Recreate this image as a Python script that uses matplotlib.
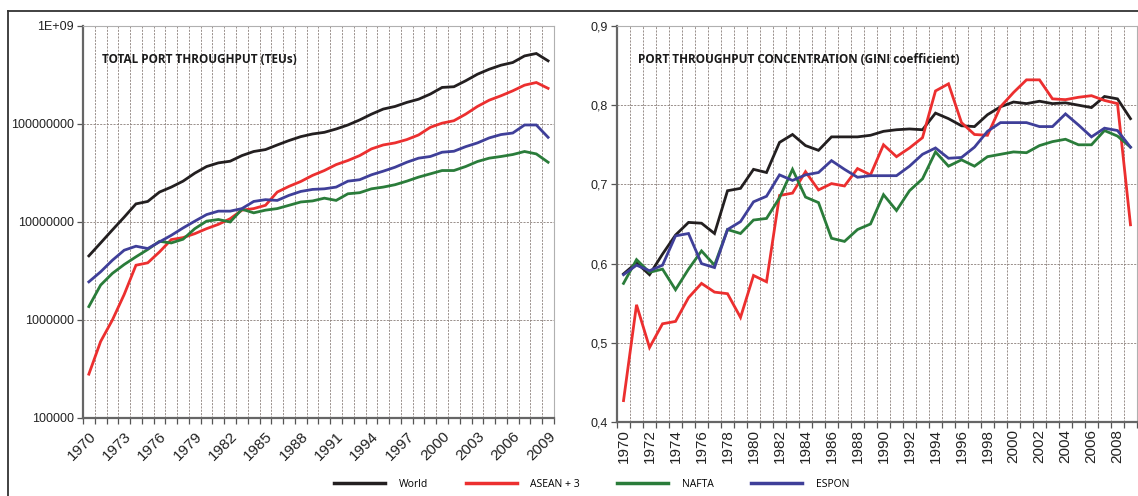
import numpy as np
import matplotlib
matplotlib.use("Agg")
import matplotlib.pyplot as plt
from matplotlib.lines import Line2D
from matplotlib.ticker import FixedLocator

# Years shown on both panels
years = list(range(1970, 2010))

# Total port throughput (TEUs)
world_teu = [4.51e6, 6.11e6, 8.30e6, 1.12e7, 1.53e7, 1.62e7, 2.02e7, 2.27e7, 2.61e7, 3.15e7,
             3.68e7, 4.01e7, 4.17e7, 4.76e7, 5.24e7, 5.48e7, 6.11e7, 6.78e7, 7.43e7, 7.91e7,
             8.22e7, 8.89e7, 9.77e7, 1.10e8, 1.26e8, 1.42e8, 1.51e8, 1.66e8, 1.79e8, 2.02e8,
             2.36e8, 2.40e8, 2.76e8, 3.22e8, 3.62e8, 3.98e8, 4.24e8, 4.95e8, 5.24e8, 4.41e8]
asean_teu = [2.80e5, 6.03e5, 1.00e6, 1.82e6, 3.62e6, 3.83e6, 4.95e6, 6.61e6, 6.93e6, 7.60e6,
             8.55e6, 9.46e6, 1.08e7, 1.32e7, 1.37e7, 1.48e7, 2.02e7, 2.31e7, 2.59e7, 2.99e7,
             3.35e7, 3.85e7, 4.24e7, 4.76e7, 5.57e7, 6.11e7, 6.41e7, 6.93e7, 7.73e7, 9.25e7,
             1.02e8, 1.08e8, 1.26e8, 1.51e8, 1.75e8, 1.94e8, 2.18e8, 2.49e8, 2.65e8, 2.31e8]
nafta_teu = [1.37e6, 2.27e6, 2.99e6, 3.68e6, 4.41e6, 5.24e6, 6.35e6, 6.11e6, 6.67e6, 8.55e6,
             1.02e7, 1.06e7, 1.00e7, 1.35e7, 1.24e7, 1.32e7, 1.37e7, 1.48e7, 1.60e7, 1.64e7,
             1.75e7, 1.66e7, 1.94e7, 1.99e7, 2.18e7, 2.27e7, 2.40e7, 2.61e7, 2.87e7, 3.10e7,
             3.35e7, 3.35e7, 3.68e7, 4.14e7, 4.48e7, 4.66e7, 4.88e7, 5.24e7, 4.95e7, 4.07e7]
espon_teu = [2.45e6, 3.10e6, 4.07e6, 5.15e6, 5.66e6, 5.36e6, 6.27e6, 7.31e6, 8.69e6, 1.02e7,
             1.19e7, 1.29e7, 1.29e7, 1.37e7, 1.62e7, 1.69e7, 1.66e7, 1.87e7, 2.05e7, 2.15e7,
             2.18e7, 2.27e7, 2.61e7, 2.70e7, 3.03e7, 3.30e7, 3.62e7, 4.07e7, 4.48e7, 4.66e7,
             5.15e7, 5.27e7, 5.87e7, 6.41e7, 7.21e7, 7.80e7, 8.09e7, 9.77e7, 9.77e7, 7.31e7]

# Port throughput concentration (Gini coefficient)
world_gini = [0.587, 0.601, 0.586, 0.612, 0.636, 0.652, 0.651, 0.638, 0.692, 0.695,
              0.719, 0.715, 0.753, 0.763, 0.749, 0.743, 0.760, 0.760, 0.760, 0.762,
              0.767, 0.769, 0.770, 0.769, 0.790, 0.783, 0.774, 0.773, 0.788, 0.798,
              0.804, 0.802, 0.805, 0.802, 0.803, 0.800, 0.797, 0.811, 0.808, 0.783]
asean_gini = [0.427, 0.548, 0.494, 0.524, 0.527, 0.557, 0.575, 0.564, 0.562, 0.532,
              0.585, 0.577, 0.686, 0.689, 0.716, 0.693, 0.701, 0.698, 0.720, 0.712,
              0.750, 0.735, 0.746, 0.759, 0.818, 0.827, 0.778, 0.763, 0.762, 0.798,
              0.816, 0.832, 0.832, 0.808, 0.807, 0.810, 0.812, 0.806, 0.802, 0.649]
nafta_gini = [0.575, 0.605, 0.589, 0.593, 0.567, 0.593, 0.616, 0.598, 0.643, 0.638,
              0.655, 0.657, 0.683, 0.719, 0.684, 0.677, 0.632, 0.628, 0.643, 0.650,
              0.687, 0.667, 0.692, 0.707, 0.741, 0.723, 0.731, 0.723, 0.735, 0.738,
              0.741, 0.740, 0.749, 0.754, 0.757, 0.750, 0.750, 0.768, 0.761, 0.747]
espon_gini = [0.586, 0.598, 0.591, 0.598, 0.635, 0.638, 0.600, 0.595, 0.643, 0.653,
              0.678, 0.685, 0.712, 0.705, 0.712, 0.715, 0.730, 0.719, 0.709, 0.711,
              0.711, 0.711, 0.723, 0.738, 0.746, 0.733, 0.734, 0.747, 0.767, 0.778,
              0.778, 0.778, 0.773, 0.773, 0.789, 0.775, 0.760, 0.771, 0.768, 0.747]

series_names = ["World", "ASEAN + 3", "NAFTA", "ESPON"]
colors = ["#231f20", "#ec2f2f", "#2a7c3a", "#3f3f99"]

left_ticks = [1e5, 1e6, 1e7, 1e8, 1e9]
left_labels = ["100000", "1000000", "10000000", "100000000", "1E+09"]
right_ticks = [0.4, 0.5, 0.6, 0.7, 0.8, 0.9]
right_labels = ["0,4", "0,5", "0,6", "0,7", "0,8", "0,9"]

grid_col = "#8a7f7a"
x = np.arange(len(years))

fig = plt.figure(figsize=(11.38, 4.96), dpi=100)
ax1 = fig.add_axes([0.0729, 0.1573, 0.4139, 0.7903])
ax2 = fig.add_axes([0.5422, 0.1492, 0.4569, 0.7984])


def style_axis(ax, step, rot, fs, pad):
    ax.set_xlim(-0.5, len(years) - 0.5)
    ax.xaxis.set_major_locator(FixedLocator(x[::step]))
    ax.set_xticklabels([str(y) for y in years[::step]])
    ax.xaxis.set_minor_locator(FixedLocator(np.arange(-0.5, len(years), 1.0)))
    ax.tick_params(axis="x", which="major", length=0, pad=pad, labelsize=fs)
    ax.tick_params(axis="x", which="minor", length=4.5, color="#555555", width=0.9)
    ax.tick_params(axis="y", which="major", length=4.5, color="#555555", width=0.9,
                   labelsize=9, pad=2)
    ax.tick_params(axis="y", which="minor", length=0)
    ax.grid(axis="x", which="minor", color=grid_col, linestyle=(0, (2.5, 1.5)), linewidth=0.6)
    ax.grid(axis="y", which="major", color=grid_col, linestyle=(0, (2.5, 1.5)), linewidth=0.6)
    for s in ["left", "bottom"]:
        ax.spines[s].set_color("#666666")
        ax.spines[s].set_linewidth(1.6)
    for s in ["top", "right"]:
        ax.spines[s].set_color("#b0b0b0")
        ax.spines[s].set_linewidth(0.8)
    ax.set_axisbelow(True)
    for lab in ax.get_xticklabels():
        lab.set_rotation(rot)
        if rot == 45:
            lab.set_ha("right")
            lab.set_va("top")
            lab.set_rotation_mode("anchor")
    for lab in ax.get_xticklabels() + ax.get_yticklabels():
        lab.set_fontfamily("Liberation Sans")
        lab.set_color("#222222")


# left panel: throughput, log scale
for vals, name, c in zip([world_teu, asean_teu, nafta_teu, espon_teu], series_names, colors):
    ax1.plot(x, vals, color=c, linewidth=2.0, label=name, solid_joinstyle="miter")
ax1.set_yscale("log")
ax1.set_ylim(1e5, 1e9)
ax1.yaxis.set_major_locator(FixedLocator(left_ticks))
ax1.yaxis.set_minor_locator(FixedLocator([]))
ax1.set_yticklabels(left_labels)
style_axis(ax1, 3, 45, 11, 8)
ax1.text(0.04, 0.915, "TOTAL PORT THROUGHPUT (TEUs)", transform=ax1.transAxes,
         fontsize=8.5, fontweight="bold", family="Open Sans", va="center", color="#1a1a1a")

# right panel: Gini coefficient
for vals, name, c in zip([world_gini, asean_gini, nafta_gini, espon_gini], series_names, colors):
    ax2.plot(x, vals, color=c, linewidth=2.0, solid_joinstyle="miter")
ax2.set_ylim(0.4, 0.9)
ax2.yaxis.set_major_locator(FixedLocator(right_ticks))
ax2.set_yticklabels(right_labels)
style_axis(ax2, 2, 90, 11, 5)
ax2.text(0.04, 0.915, "PORT THROUGHPUT CONCENTRATION (GINI coefficient)", transform=ax2.transAxes,
         fontsize=8.5, fontweight="bold", family="Open Sans", va="center", color="#1a1a1a")

# legend along the bottom
handles = [Line2D([0], [0], color=c, linewidth=2.5) for c in colors]
leg = fig.legend(handles, series_names, loc="center", bbox_to_anchor=(0.52, 0.024), ncol=4,
                 frameon=False, handlelength=4.9, handletextpad=1.3, columnspacing=3.6,
                 prop={"family": "Open Sans", "size": 7.5})

# outer frame (top and left edges)
fig.add_artist(Line2D([8 / 1138, 1.0], [1 - 11 / 496, 1 - 11 / 496], transform=fig.transFigure,
                      color="#333333", linewidth=1.3))
fig.add_artist(Line2D([8 / 1138, 8 / 1138], [0.0, 1 - 11 / 496], transform=fig.transFigure,
                      color="#333333", linewidth=1.3))

fig.savefig("out.png", dpi=100, facecolor="white")
